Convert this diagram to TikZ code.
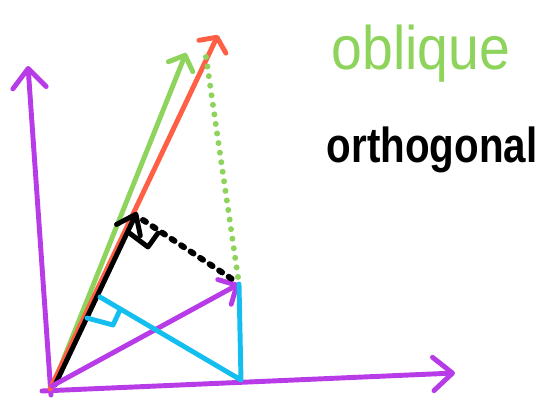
\documentclass[tikz,border=0pt]{standalone}
\usepackage{fontspec}
\setmainfont{Liberation Sans}
\usetikzlibrary{arrows.meta, positioning}

\definecolor{fiolet}{RGB}{184,59,232}
\definecolor{czerwony}{RGB}{255,95,69}
\definecolor{zielony}{RGB}{142,211,91}
\definecolor{niebieski}{RGB}{20,191,240}

\tikzset{
  wektor/.style={line width=2.8pt, line cap=round, line join=round},
  kropki/.style={line width=3.4pt, line cap=round, dash pattern=on 0pt off 5.5pt},
  kreski/.style={line width=3.4pt, line cap=round, dash pattern=on 2pt off 4.5pt}
}

\begin{document}
\begin{tikzpicture}[x=0.02cm, y=-0.02cm]
\useasboundingbox (0,0) rectangle (542,402);

% Punkty (w pikselach)
\foreach \n/\x/\y in {
  O/52/386, Y0/51/395, Y/28/66, X0/42/391, X/455/373,
  Or/50/389, R/218/35, Og/54/383, G/186/53, Ob/55/385, B/137/212,
  P/239/284, Rp/206/57, Bd/143/220, Pd/235/281,
  Px/241/380, Bp/100/297,
  k1/128/232, k2/148/247, k3/158/233,
  c1/87/318, c2/113/325, c3/120/310
}{
  \coordinate (\n) at (\x,\y);
}

% Osie
\draw[wektor, fiolet, -{Straight Barb[round, length=11pt, width=19pt]}] (Y0) -- (Y);
\draw[wektor, fiolet, -{Straight Barb[round, length=11pt, width=19pt]}] (X0) -- (X);

% Wektory
\draw[wektor, zielony, -{Straight Barb[round, length=7pt, width=15pt]}] (Og) -- (G);
\draw[wektor, czerwony, -{Straight Barb[round, length=6pt, width=17pt]}] (Or) -- (R);
\draw[wektor, black, -{Straight Barb[round, length=10pt, width=15pt]}] (Ob) -- (B);
\draw[wektor, fiolet, -{Straight Barb[round, length=8pt, width=16pt]}] (O) -- (P);

% Rzut prostopadly
\draw[wektor, niebieski] (P) -- (Px) -- (Bp);
\draw[wektor, niebieski] (c1) -- (c2) -- (c3);
\draw[wektor, black] (k1) -- (k2) -- (k3);

% Linie kropkowane
\draw[kropki, zielony] (Rp) -- (P);
\draw[kreski, black] (Bd) -- (Pd);

% Podpisy
\node[text=zielony, font=\fontsize{35}{40}\selectfont, anchor=base,
  transform shape, xscale=0.9] (obl) at (421,70) {oblique};
\node[font=\bfseries\fontsize{28}{32}\selectfont, anchor=base,
  transform shape, xscale=0.82] (ort) at (432,163) {orthogonal};
\end{tikzpicture}
\end{document}
